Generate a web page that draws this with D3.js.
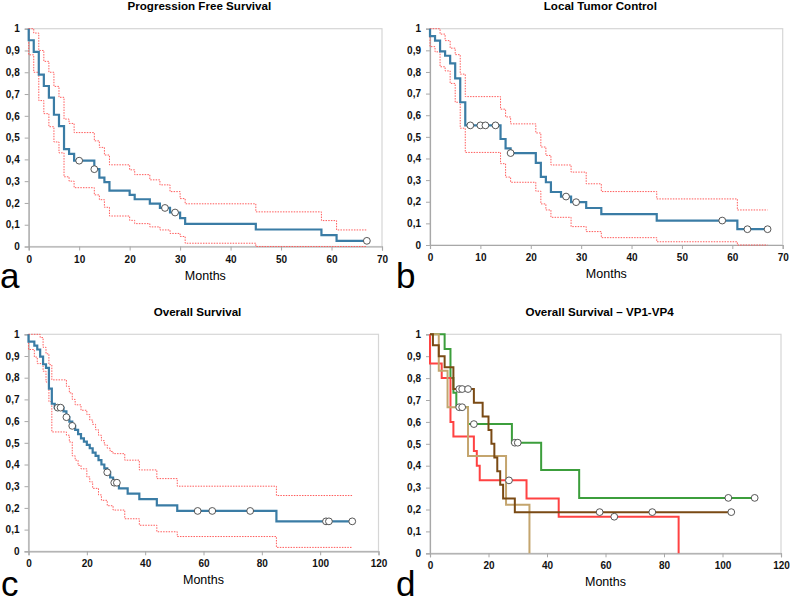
<!DOCTYPE html>
<html>
<head>
<meta charset="utf-8">
<script src="https://cdn.jsdelivr.net/npm/d3@7"></script>
<style>
  body { margin: 0; background: #fff; }
  svg { display: block; font-family: "Liberation Sans", Arial, sans-serif; }
</style>
</head>
<body>
<svg id="chart" width="790" height="602"></svg>
<script>
// ---- data (step times in months, survival after each step) ----

// a: Progression Free Survival
const pfsT     = [0, 1, 2, 3, 4, 5, 6, 7, 8, 9, 13, 14, 15, 16, 20, 21, 24, 26, 28, 30, 31, 45, 58, 61];
const pfsS     = [0.947, 0.894, 0.789, 0.737, 0.684, 0.605, 0.553, 0.447, 0.425, 0.394, 0.355, 0.316, 0.296, 0.257, 0.237, 0.217, 0.197, 0.177, 0.156, 0.13, 0.104, 0.078, 0.052, 0.026];
const pfsEnd   = 67;
const pfsCens  = [10, 13, 27, 29, 67];
const pfsUpT   = [1, 2, 3, 4, 5, 6, 7, 8, 9, 13, 14, 15, 16, 20, 21, 24, 26, 28, 30, 31, 45, 58, 61];
const pfsUpS   = [0.98, 0.90, 0.85, 0.80, 0.735, 0.685, 0.585, 0.565, 0.523, 0.485, 0.455, 0.42, 0.375, 0.352, 0.33, 0.306, 0.283, 0.252, 0.22, 0.196, 0.159, 0.119, 0.076];
const pfsLoT   = [0, 1, 2, 3, 4, 5, 6, 7, 8, 9, 13, 14, 15, 16, 20, 21, 24, 26, 28, 30, 31, 45];
const pfsLoS   = [0.88, 0.80, 0.67, 0.61, 0.55, 0.48, 0.43, 0.32, 0.30, 0.27, 0.237, 0.215, 0.18, 0.14, 0.12, 0.105, 0.09, 0.076, 0.06, 0.046, 0.015, 0.0];

// b: Local Tumor Control
const ltcT     = [0, 1, 2, 3, 4, 5, 6, 7, 14, 15, 16, 21, 22, 23, 24, 26, 28, 31, 34, 45, 61];
const ltcS     = [0.966, 0.945, 0.895, 0.875, 0.84, 0.77, 0.66, 0.553, 0.49, 0.447, 0.425, 0.38, 0.315, 0.29, 0.245, 0.224, 0.198, 0.171, 0.143, 0.113, 0.073];
const ltcEnd   = 67;
const ltcCens  = [8, 10, 11, 13, 16, 27, 29, 58, 63, 67];
const ltcUpT   = [2, 3, 4, 5, 6, 7, 14, 15, 16, 21, 22, 23, 24, 28, 31, 34, 45, 61];
const ltcUpS   = [0.975, 0.945, 0.91, 0.88, 0.79, 0.686, 0.628, 0.592, 0.56, 0.518, 0.453, 0.414, 0.37, 0.337, 0.283, 0.247, 0.213, 0.162];
const ltcLoT   = [0, 1, 2, 3, 4, 5, 6, 7, 14, 15, 16, 21, 22, 23, 24, 28, 31, 34, 45, 61];
const ltcLoS   = [0.917, 0.893, 0.824, 0.805, 0.747, 0.66, 0.54, 0.428, 0.376, 0.314, 0.29, 0.249, 0.19, 0.162, 0.128, 0.085, 0.062, 0.034, 0.015, 0.0];

// c: Overall Survival
const osT      = [0, 2, 3, 4, 5, 6, 7, 8, 9, 12, 13, 14, 15, 16, 17, 18, 19, 20, 21, 22, 23, 24, 25, 26, 27, 28, 29, 31, 34, 38, 44, 51, 85];
const osS      = [0.966, 0.948, 0.93, 0.897, 0.862, 0.845, 0.75, 0.68, 0.662, 0.645, 0.618, 0.598, 0.578, 0.56, 0.54, 0.52, 0.505, 0.49, 0.475, 0.455, 0.44, 0.42, 0.40, 0.382, 0.364, 0.34, 0.316, 0.29, 0.266, 0.24, 0.212, 0.186, 0.138];
const osEnd    = 111;
const osCens   = [10, 11, 13, 15, 27, 29.4, 30.3, 58, 63, 76, 102, 103, 111];
const osUpT    = [4, 5, 6, 7, 8, 13, 14, 15, 16, 18, 20, 21, 22, 23, 24, 25, 26, 27, 28, 29, 33, 38, 44, 51, 85];
const osUpS    = [0.985, 0.94, 0.91, 0.86, 0.79, 0.76, 0.73, 0.70, 0.675, 0.65, 0.63, 0.605, 0.585, 0.56, 0.535, 0.51, 0.49, 0.475, 0.46, 0.45, 0.42, 0.375, 0.335, 0.30, 0.257];
const osLoT    = [0, 2, 3, 5, 6, 7, 8, 13, 14, 15, 16, 17, 18, 20, 21, 22, 24, 25, 27, 29, 33, 38, 44, 51, 85];
const osLoS    = [0.93, 0.895, 0.865, 0.83, 0.78, 0.69, 0.55, 0.535, 0.504, 0.44, 0.42, 0.396, 0.38, 0.343, 0.32, 0.29, 0.26, 0.235, 0.21, 0.19, 0.15, 0.12, 0.09, 0.068, 0.018];

// d: Overall Survival by VP1-VP4
const vpNames  = ["green", "red", "tan", "brown"];
const vpColors = ["#3c9e3c", "#ff4242", "#c4a56e", "#7a4a14"];
const vpT      = [
  [5, 7, 8, 9, 13, 28, 38, 51],
  [0, 4, 7, 8, 15, 16, 17, 33, 44, 85],
  [3, 6, 13, 26, 34],
  [1, 3, 5, 8, 15, 18, 20, 21, 22, 23, 24, 25, 29]
];
const vpS      = [
  [0.933, 0.80, 0.733, 0.667, 0.59, 0.505, 0.38, 0.253],
  [0.867, 0.80, 0.60, 0.533, 0.467, 0.40, 0.333, 0.25, 0.167, 0.0],
  [0.833, 0.667, 0.444, 0.222, 0.0],
  [0.95, 0.90, 0.85, 0.75, 0.688, 0.625, 0.563, 0.50, 0.438, 0.375, 0.313, 0.25, 0.188]
];
const vpEnd    = [111, 85, 34, 103];
const vpCens   = [
  [15, 29, 30, 102, 111],
  [27, 63],
  [10, 11],
  [10, 11, 13, 58, 76, 103]
];

const yTicks = d3.range(0, 11).map(d => d / 10);

const svg = d3.select("#chart");
const blue = "#3a7ca5";
const ciRed = "#ff5c5c";

function stepPoints(times, surv, end) {
  const pts = [[0, 1]];
  times.forEach((t, i) => pts.push([t, surv[i]]));
  const last = pts[pts.length - 1];
  if (end > last[0]) pts.push([end, last[1]]);
  return pts;
}

function survAt(times, surv, t) {
  let s = 1;
  times.forEach((tt, i) => { if (tt <= t) s = surv[i]; });
  return s;
}

function panel(cfg) {
  const x = d3.scaleLinear().domain([0, cfg.xMax]).range([cfg.left, cfg.right]);
  const y = d3.scaleLinear().domain([0, 1]).range([cfg.bottom, cfg.top]);
  const g = svg.append("g");

  // frame
  g.append("rect")
    .attr("x", cfg.left).attr("y", cfg.top)
    .attr("width", cfg.right - cfg.left).attr("height", cfg.bottom - cfg.top)
    .attr("fill", "none").attr("stroke", "#d6d6d6").attr("stroke-width", 1.2);

  const yAxis = g.append("g")
    .attr("transform", `translate(${cfg.left},0)`)
    .call(d3.axisLeft(y).tickValues(yTicks).tickSize(4).tickPadding(5)
      .tickFormat(d => d === 0 ? "0" : d === 1 ? "1" : d3.format(".1f")(d).replace(".", ",")));
  const xAxis = g.append("g")
    .attr("transform", `translate(0,${cfg.bottom})`)
    .call(d3.axisBottom(x).tickValues(d3.range(0, cfg.xMax + 1, cfg.xStep)).tickSize(4).tickPadding(5));
  [yAxis, xAxis].forEach(a => {
    a.select(".domain").attr("stroke", "#a8a8a8").attr("stroke-width", 1.2);
    a.selectAll(".tick line").attr("stroke", "#a8a8a8");
    a.selectAll("text").attr("font-size", 10).attr("font-weight", "bold").attr("fill", "#111")
      .attr("font-family", "Liberation Sans, Arial, sans-serif");
  });

  g.append("text").attr("x", (cfg.left + cfg.right) / 2 - 6).attr("y", cfg.top - 18.5)
    .attr("text-anchor", "middle").attr("font-size", 11.6).attr("font-weight", "bold")
    .text(cfg.title);
  g.append("text").attr("x", (cfg.left + cfg.right) / 2).attr("y", cfg.bottom + 33)
    .attr("text-anchor", "middle").attr("font-size", 12.5).text("Months");
  g.append("text").attr("x", cfg.letterX).attr("y", cfg.letterY)
    .attr("font-size", 35).text(cfg.letter);

  const line = d3.line().x(d => x(d[0])).y(d => y(d[1])).curve(d3.curveStepAfter);

  (cfg.ci || []).forEach(c => {
    g.append("path").attr("d", line(stepPoints(c.t, c.s, c.end)))
      .attr("fill", "none").attr("stroke", ciRed).attr("stroke-width", 1)
      .attr("stroke-dasharray", "1.5,1.2");
  });
  cfg.series.forEach(sr => {
    g.append("path").attr("d", line(stepPoints(sr.t, sr.s, sr.end)))
      .attr("fill", "none").attr("stroke", sr.color).attr("stroke-width", sr.width || 2.2);
  });
  cfg.series.forEach(sr => {
    g.selectAll(null).data(sr.cens).join("circle")
      .attr("cx", d => x(d)).attr("cy", d => y(survAt(sr.t, sr.s, d)))
      .attr("r", 3.4).attr("fill", "#fff").attr("stroke", "#444").attr("stroke-width", 0.9);
  });
}

panel({
  title: "Progression Free Survival", letter: "a", letterX: 0, letterY: 288,
  left: 28.7, right: 382, top: 28.7, bottom: 246.5, xMax: 70, xStep: 10,
  ci: [{ t: pfsUpT, s: pfsUpS, end: pfsEnd }, { t: pfsLoT, s: pfsLoS, end: pfsEnd }],
  series: [{ t: pfsT, s: pfsS, end: pfsEnd, cens: pfsCens, color: blue }]
});

panel({
  title: "Local Tumor Control", letter: "b", letterX: 396, letterY: 288,
  left: 430, right: 782.7, top: 28.7, bottom: 245, xMax: 70, xStep: 10,
  ci: [{ t: ltcUpT, s: ltcUpS, end: ltcEnd }, { t: ltcLoT, s: ltcLoS, end: ltcEnd }],
  series: [{ t: ltcT, s: ltcS, end: ltcEnd, cens: ltcCens, color: blue }]
});

panel({
  title: "Overall Survival", letter: "c", letterX: 1, letterY: 596,
  left: 28.5, right: 378.5, top: 334.3, bottom: 551.3, xMax: 120, xStep: 20,
  ci: [{ t: osUpT, s: osUpS, end: osEnd }, { t: osLoT, s: osLoS, end: osEnd }],
  series: [{ t: osT, s: osS, end: osEnd, cens: osCens, color: blue }]
});

panel({
  title: "Overall Survival \u2013 VP1-VP4", letter: "d", letterX: 396, letterY: 596,
  left: 430, right: 781, top: 334.3, bottom: 553.3, xMax: 120, xStep: 20,
  series: vpNames.map((n, i) => ({ t: vpT[i], s: vpS[i], end: vpEnd[i], cens: vpCens[i], color: vpColors[i], width: 2 }))
});
</script>
</body>
</html>
